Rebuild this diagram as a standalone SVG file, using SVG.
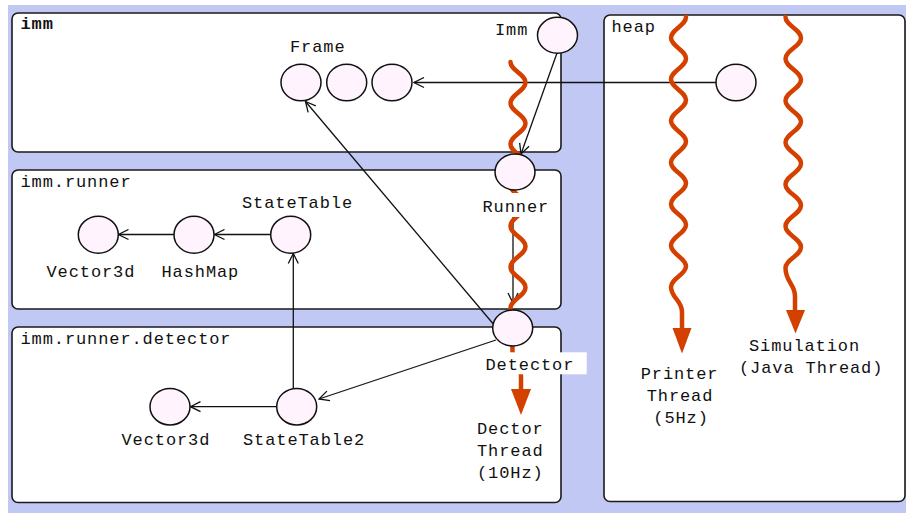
<svg xmlns="http://www.w3.org/2000/svg" width="906" height="513" viewBox="0 0 906 513">
<defs>
<style>
.pkg{fill:#ffffff;stroke:#1a1a1a;stroke-width:1.6}
.obj{fill:#fff3fd;stroke:#111;stroke-width:1.5}
.t{font-family:"Liberation Mono","DejaVu Sans Mono",monospace;font-size:17px;letter-spacing:0.9px;fill:#111}
.b{font-weight:bold}
.con{fill:none;stroke:#111;stroke-width:1.3}
.thr{fill:none;stroke:#d44000;stroke-width:4.5;stroke-linecap:round}
.ah{fill:#d44000}
.lbg{fill:#ffffff}
</style>
<marker id="open" viewBox="0 0 12 12" refX="11" refY="6" markerWidth="12" markerHeight="12" markerUnits="userSpaceOnUse" orient="auto">
<path d="M1,1 L11,6 L1,11" fill="none" stroke="#111" stroke-width="1.3"/>
</marker>
</defs>
<rect x="8" y="5" width="910" height="520" fill="#c1c8f3"/>

<g id="pkg-imm"><rect class="pkg" x="12" y="13" width="549" height="139" rx="6"/><text class="t b" x="20.5" y="28.5">imm</text></g>
<g id="pkg-imm-runner"><rect class="pkg" x="12" y="170" width="549" height="139" rx="6"/><text class="t" x="20.5" y="186.5">imm.runner</text></g>
<g id="pkg-imm-runner-detector"><rect class="pkg" x="12" y="327" width="549" height="175.5" rx="6"/><text class="t" x="20.5" y="344">imm.runner.detector</text></g>
<g id="pkg-heap"><rect class="pkg" x="604" y="15" width="301" height="486.5" rx="6"/><text class="t" x="611.5" y="31.5">heap</text></g>

<g id="connectors">
<path class="con" d="M716,82.5 L414,82.5" marker-end="url(#open)"/>
<path class="con" d="M557,53 L521,154" marker-end="url(#open)"/>
<path class="con" d="M513,190 L513,303" marker-end="url(#open)"/>
<path class="con" d="M495,326 L305.5,101.5" marker-end="url(#open)"/>
<path class="con" d="M496,340 L319,399" marker-end="url(#open)"/>
<path class="con" d="M293.3,388.5 L293.3,253.5" marker-end="url(#open)"/>
<path class="con" d="M276.7,406.7 L190.5,406.7" marker-end="url(#open)"/>
<path class="con" d="M270.7,234.5 L214.5,234.5" marker-end="url(#open)"/>
<path class="con" d="M174,234.5 L118.5,234.5" marker-end="url(#open)"/>
</g>

<g id="threads">
<path class="thr" d="M510.5,62 C510.5,70.2 525.5,74.3 525.5,82.5 S510.5,94.8 510.5,103 S525.5,115.3 525.5,123.5 S510.5,135.8 510.5,144 S525.5,156.3 525.5,164.5 S510.5,176.8 510.5,185 S525.5,197.3 525.5,205.5 S510.5,217.8 510.5,226 S525.5,238.3 525.5,246.5 S510.5,258.8 510.5,267 S525.5,279.3 525.5,287.5 S510.5,299.8 510.5,308 C510.5,325 512.5,335 512.5,352 C512.5,363 521,363 521,376 L521,391"/>
<polygon class="ah" points="511,389 531,389 521,415"/>
<path class="thr" d="M686,17 C686,25.3 671,29.5 671,37.8 S686,50.2 686,58.5 S671,71 671,79.3 S686,91.8 686,100.1 S671,112.5 671,120.8 S686,133.3 686,141.6 S671,154.1 671,162.4 S686,174.9 686,183.2 S671,195.6 671,203.9 S686,216.4 686,224.7 S671,237.2 671,245.5 S686,258 686,266.2 S671,278.7 671,287 C671,298 682,300 682,312 L682,330"/>
<polygon class="ah" points="672.5,328 691.5,328 682,353.5"/>
<path class="thr" d="M785.5,17 C785.5,25.4 801,29.5 801,37.9 S785.5,50.4 785.5,58.8 S801,71.4 801,79.8 S785.5,92.3 785.5,100.7 S801,113.2 801,121.6 S785.5,134.1 785.5,142.5 S801,155 801,163.4 S785.5,176 785.5,184.4 S801,196.9 801,205.3 S785.5,217.8 785.5,226.2 S801,238.7 801,247.1 S785.5,259.6 785.5,268 C785.5,282 795,284 795,296 L795,312"/>
<polygon class="ah" points="786,310 805,310 795.5,333.5"/>
</g>

<g id="frame"><ellipse class="obj" cx="301" cy="82.5" rx="20" ry="18.3"/><ellipse class="obj" cx="346.7" cy="82.5" rx="20" ry="18.3"/><ellipse class="obj" cx="392" cy="82.5" rx="20" ry="18.3"/><text class="t" x="290" y="52">Frame</text></g>
<g id="imm"><ellipse class="obj" cx="557.5" cy="35.3" rx="20" ry="18"/><text class="t" x="495" y="35">Imm</text></g>
<g id="heap-object"><ellipse class="obj" cx="736" cy="82.5" rx="20" ry="18.3"/></g>
<g id="runner"><ellipse class="obj" cx="515" cy="172" rx="20" ry="18"/><rect class="lbg" x="481" y="193" width="70" height="24"/><text class="t" x="482.5" y="211.5">Runner</text></g>
<g id="statetable"><ellipse class="obj" cx="290.7" cy="234.7" rx="20" ry="18.5"/><text class="t" x="242" y="207.5">StateTable</text></g>
<g id="hashmap"><ellipse class="obj" cx="194" cy="234.7" rx="20" ry="18.5"/><text class="t" x="161.5" y="276.5">HashMap</text></g>
<g id="vector3d-runner"><ellipse class="obj" cx="98.3" cy="234.7" rx="20" ry="18.5"/><text class="t" x="46.5" y="276.5">Vector3d</text></g>
<g id="detector"><ellipse class="obj" cx="512.7" cy="328" rx="20" ry="18"/><rect class="lbg" x="485" y="352.3" width="101.7" height="22"/><text class="t" x="485.5" y="370">Detector</text></g>
<g id="statetable2"><ellipse class="obj" cx="296.7" cy="406.7" rx="20" ry="18.3"/><text class="t" x="243" y="445">StateTable2</text></g>
<g id="vector3d-detector"><ellipse class="obj" cx="170" cy="406.7" rx="20" ry="18.3"/><text class="t" x="121.5" y="445">Vector3d</text></g>
<g id="detector-thread-label"><text class="t" x="477" y="434">Dector</text><text class="t" x="477" y="456">Thread</text><text class="t" x="477" y="478">(10Hz)</text></g>
<g id="printer-thread-label"><text class="t" x="640.7" y="379">Printer</text><text class="t" x="646.7" y="401">Thread</text><text class="t" x="653.3" y="423">(5Hz)</text></g>
<g id="simulation-thread-label"><text class="t" x="749" y="350.7">Simulation</text><text class="t" x="739" y="372.7">(Java Thread)</text></g>
</svg>
